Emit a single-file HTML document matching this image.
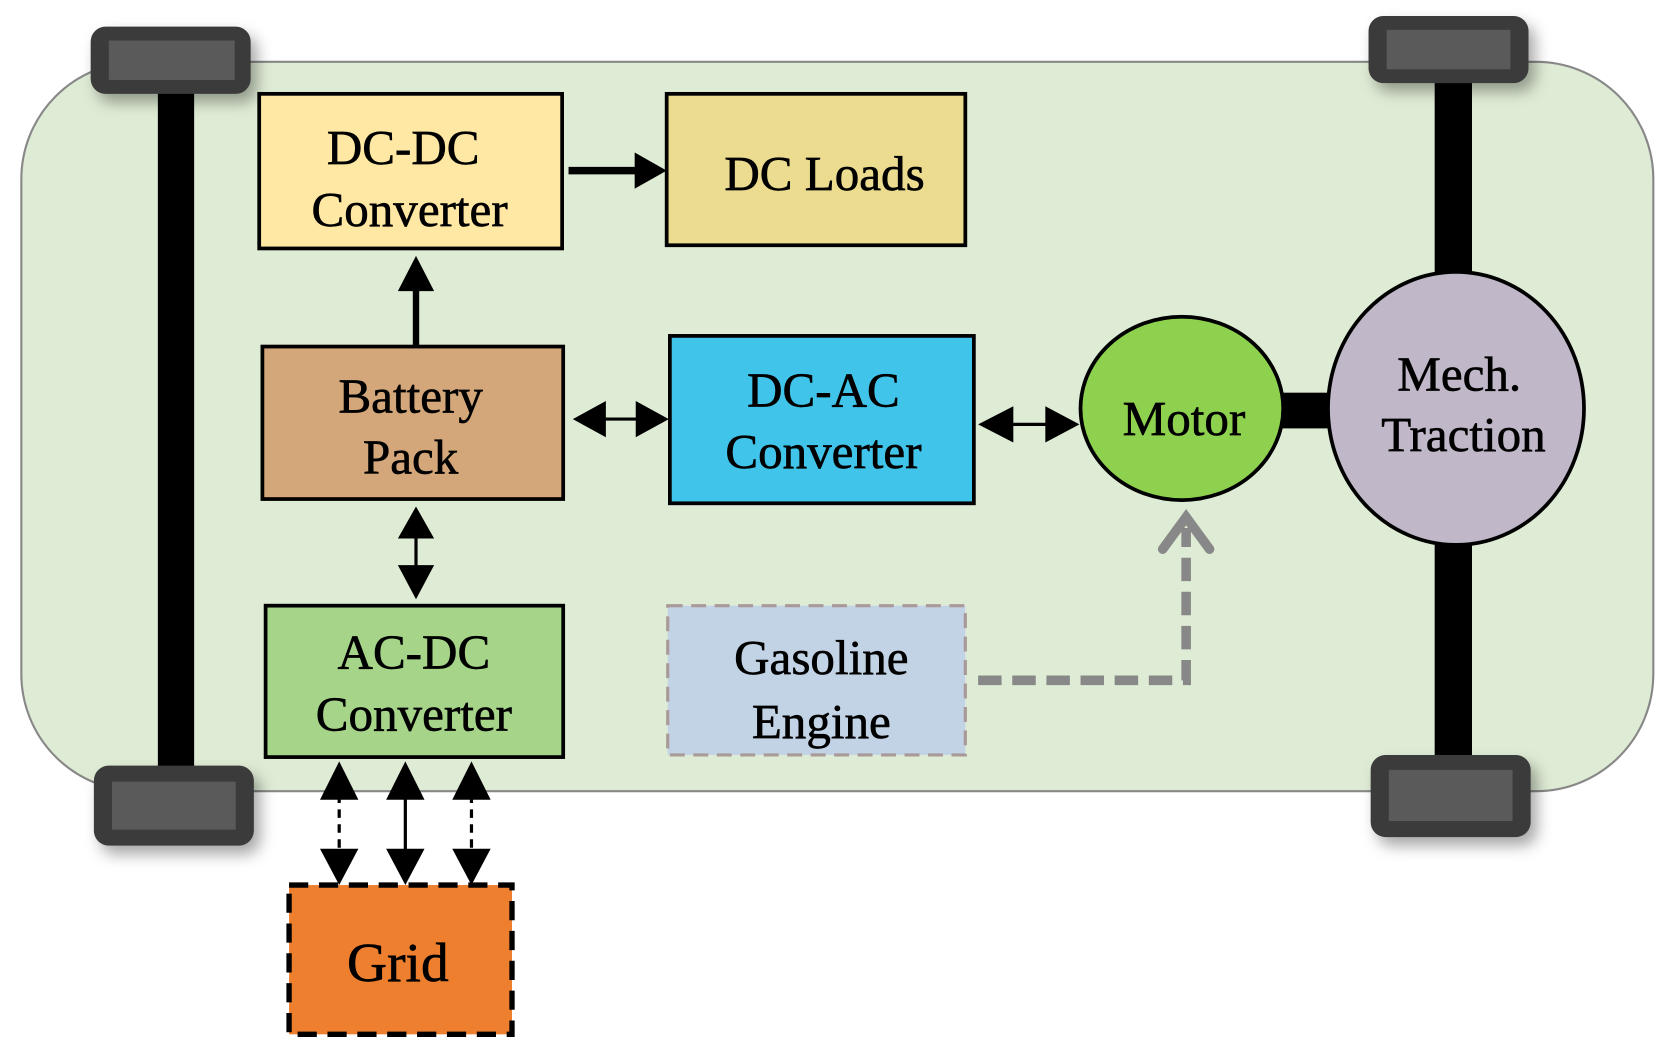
<!DOCTYPE html>
<html><head><meta charset="utf-8"><style>html,body{margin:0;padding:0;background:#fff;width:1664px;height:1045px;overflow:hidden}</style></head>
<body>
<svg width="1664" height="1045" viewBox="0 0 1560 980" preserveAspectRatio="none" xmlns="http://www.w3.org/2000/svg" font-family="Liberation Serif, serif">
<defs>
<filter id="sh" x="-20%" y="-20%" width="150%" height="160%"><feDropShadow dx="6" dy="8" stdDeviation="7" flood-color="#000" flood-opacity="0.35"/></filter>
</defs>
<rect x="20" y="58" width="1530" height="684" rx="110" fill="#dfecd5" stroke="#888" stroke-width="2"/>
<rect x="148" y="70" width="34" height="660" fill="#000"/>
<rect x="1345" y="60" width="35" height="200" fill="#000"/>
<rect x="1345" y="500" width="35" height="215" fill="#000"/>
<g filter="url(#sh)">
<rect x="85" y="25" width="150" height="63" rx="14" fill="#3a3a3a"/>
<rect x="88" y="718" width="150" height="75" rx="14" fill="#3a3a3a"/>
<rect x="1283" y="15" width="150" height="63" rx="14" fill="#3a3a3a"/>
<rect x="1285" y="708" width="150" height="77" rx="14" fill="#3a3a3a"/>
</g>
<rect x="102" y="38" width="118" height="37" fill="#5a5a5a"/>
<rect x="105" y="733" width="116" height="45" fill="#5a5a5a"/>
<rect x="1300" y="28" width="116" height="37" fill="#5a5a5a"/>
<rect x="1302" y="722" width="116" height="48" fill="#5a5a5a"/>
<g stroke="#000" stroke-width="3.5">
<rect x="243" y="88" width="284" height="145" fill="#ffe8a3"/>
<rect x="625" y="88" width="280" height="142" fill="#ebdc8f"/>
<rect x="246" y="325" width="282" height="143" fill="#d4a77a"/>
<rect x="628" y="315" width="285" height="157" fill="#41c4ea"/>
<rect x="249" y="568" width="279" height="142" fill="#a6d58a"/>
<rect x="1203" y="370" width="44" height="30" fill="#000"/>
<ellipse cx="1108" cy="383" rx="95" ry="86" fill="#8ed14f"/>
<ellipse cx="1365" cy="383" rx="120" ry="128" fill="#c0b8c8"/>
</g>
<rect x="626" y="568" width="279" height="140" fill="#c2d3e5" stroke="#a99" stroke-width="3" stroke-dasharray="14,8"/>
<rect x="271" y="830" width="209" height="140" fill="#ee7f2f" stroke="#000" stroke-width="5" stroke-dasharray="18,10"/>
<g stroke="#000" fill="none">
<line x1="533" y1="160" x2="600" y2="160" stroke-width="7"/>
<path d="M595,143 L625,160 L595,177z" fill="#000" stroke="none"/>
<line x1="390" y1="325" x2="390" y2="270" stroke-width="6"/>
<path d="M373,273 L390,240 L407,273z" fill="#000" stroke="none"/>
<line x1="560" y1="393" x2="600" y2="393" stroke-width="3"/>
<path d="M568,376 L537,393 L568,410z M596,376 L627,393 L596,410z" fill="#000" stroke="none"/>
<line x1="940" y1="398" x2="990" y2="398" stroke-width="3"/>
<path d="M950,381 L917,398 L950,415z M980,381 L1012,398 L980,415z" fill="#000" stroke="none"/>
<line x1="390" y1="500" x2="390" y2="535" stroke-width="3"/>
<path d="M373,505 L390,475 L407,505z M373,530 L390,562 L407,530z" fill="#000" stroke="none"/>
<line x1="318" y1="745" x2="318" y2="800" stroke-width="3" stroke-dasharray="8,6"/>
<line x1="380" y1="745" x2="380" y2="800" stroke-width="3"/>
<line x1="442" y1="745" x2="442" y2="800" stroke-width="3" stroke-dasharray="8,6"/>
<path d="M300,750 L318,714 L336,750z M300,796 L318,830 L336,796z M362,750 L380,714 L398,750z M362,796 L380,830 L398,796z M424,750 L442,714 L460,750z M424,796 L442,830 L460,796z" fill="#000" stroke="none"/>
<path d="M917,638 L1112,638 L1112,495" stroke="#888" stroke-width="9" stroke-dasharray="22,10"/>
<path d="M1090,515 L1112,485 L1134,515" stroke="#888" stroke-width="9" stroke-linecap="round"/>
</g>
<g font-size="46" text-anchor="middle" fill="#000" stroke="#000" stroke-width="0.6">
<text x="378" y="154">DC-DC</text>
<text x="384" y="212">Converter</text>
<text x="773" y="178">DC Loads</text>
<text x="385" y="387">Battery</text>
<text x="385" y="444">Pack</text>
<text x="772" y="381">DC-AC</text>
<text x="772" y="439">Converter</text>
<text x="1110" y="408">Motor</text>
<text x="1368" y="366">Mech.</text>
<text x="1372" y="423">Traction</text>
<text x="388" y="627">AC-DC</text>
<text x="388" y="685">Converter</text>
<text x="770" y="632">Gasoline</text>
<text x="770" y="692">Engine</text>
<text x="373" y="920" font-size="52">Grid</text>
</g>
</svg>
</body></html>
